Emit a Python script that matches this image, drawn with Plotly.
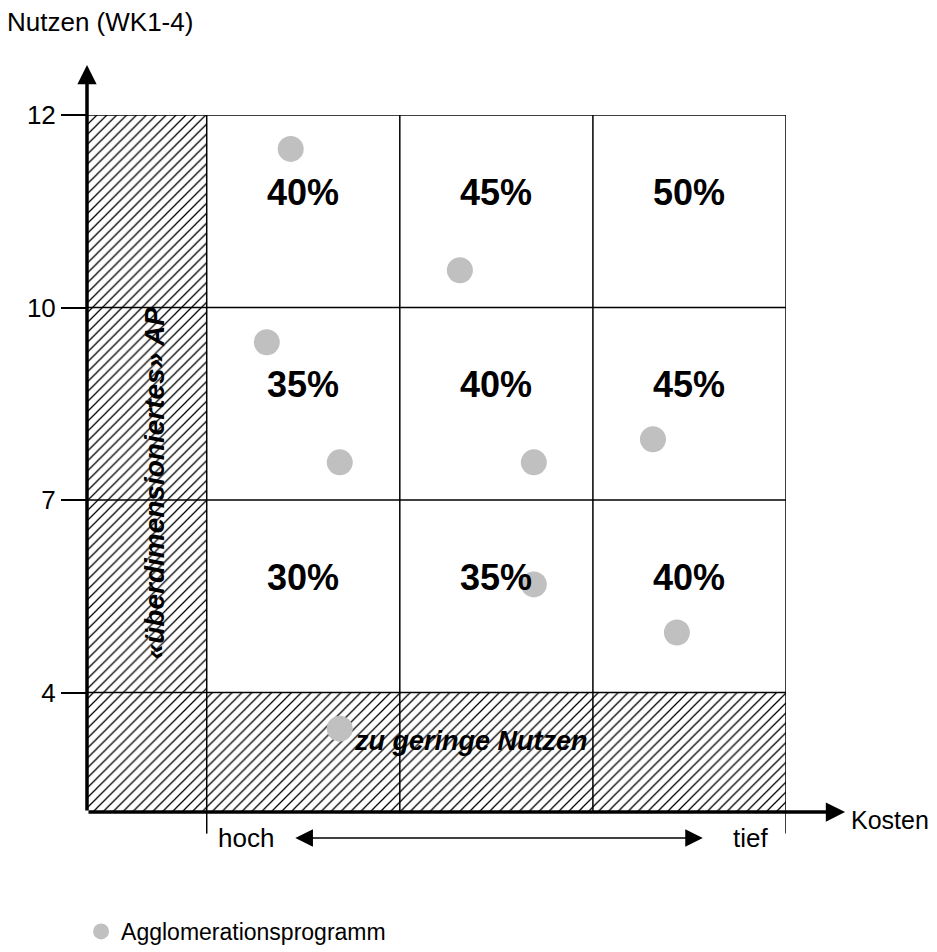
import plotly.graph_objects as go

FONT = "Arial, Liberation Sans, sans-serif"

# Axis layout (positional units: one matrix cell = 1 unit)
nutzen_tick_pos = [0, 1, 2, 3]
nutzen_tick_labels = ["4", "7", "10", "12"]
kosten_cols = [0, 1, 2, 3]          # column boundaries (hoch ... tief)
axis_min = -0.62                    # axis origin below/left of matrix

# Funding rates per cell (rows bottom->top, columns left->right)
cell_rows = [0, 0, 0, 1, 1, 1, 2, 2, 2]
cell_cols = [0, 1, 2, 0, 1, 2, 0, 1, 2]
cell_labels = ["30%", "35%", "40%", "35%", "40%", "45%", "40%", "45%", "50%"]

# Agglomerationsprogramme (cost position, benefit position)
programm_kosten = [0.435, 1.311, 0.311, 0.689, 1.694, 2.311, 1.694, 2.435, 0.689]
programm_nutzen = [2.824, 2.194, 1.820, 1.196, 1.196, 1.316, 0.562, 0.312, -0.187]

fig = go.Figure()

hatch = dict(shape="/", fgcolor="#000000", bgcolor="rgba(255,255,255,0)", size=7, solidity=0.18, fillmode="replace")
# left strip: überdimensioniert
fig.add_trace(go.Scatter(
    x=[axis_min, 0, 0, axis_min, axis_min], y=[axis_min, axis_min, 3, 3, axis_min],
    mode="lines", line=dict(width=0), fill="toself", fillcolor="rgba(255,255,255,0)",
    fillpattern=hatch, showlegend=False, hoverinfo="skip"))
# bottom strip: zu geringe Nutzen
fig.add_trace(go.Scatter(
    x=[0, 3, 3, 0, 0], y=[axis_min, axis_min, 0, 0, axis_min],
    mode="lines", line=dict(width=0), fill="toself", fillcolor="rgba(255,255,255,0)",
    fillpattern=hatch, showlegend=False, hoverinfo="skip"))

fig.add_trace(go.Scatter(
    x=programm_kosten, y=programm_nutzen, mode="markers",
    marker=dict(size=26, color="#c0c0c0", line=dict(width=0)),
    name="Agglomerationsprogramm", cliponaxis=False))

shapes = []
for c in kosten_cols:
    shapes.append(dict(type="line", xref="x", yref="y", x0=c, x1=c, y0=axis_min, y1=3,
                       line=dict(color="black", width=1.5), layer="below"))
for c in (kosten_cols[0], kosten_cols[-1]):
    shapes.append(dict(type="line", xref="x", yref="paper", x0=c, x1=c, y0=-0.031, y1=0,
                       line=dict(color="black", width=1.5), layer="below"))
for r in nutzen_tick_pos:
    shapes.append(dict(type="line", xref="x", yref="y", x0=axis_min, x1=3, y0=r, y1=r,
                       line=dict(color="black", width=1.5), layer="below"))

ann = []
for r, c, t in zip(cell_rows, cell_cols, cell_labels):
    ann.append(dict(x=c + 0.5, y=r + 0.6, text="<b>%s</b>" % t, showarrow=False,
                    font=dict(size=36, color="black", family=FONT)))

# axes arrows
ann.append(dict(x=axis_min, y=3.26, ax=axis_min, ay=axis_min, xref="x", yref="y",
                axref="x", ayref="y", text="", showarrow=True, arrowhead=2,
                arrowsize=1.1, arrowwidth=3.5, arrowcolor="black"))
ann.append(dict(x=3.306, y=axis_min, ax=axis_min, ay=axis_min, xref="x", yref="y",
                axref="x", ayref="y", text="", showarrow=True, arrowhead=2,
                arrowsize=1.1, arrowwidth=3.5, arrowcolor="black"))
# hoch <-> tief (paper coordinates, below the plot area)
ann.append(dict(x=0.881, y=-0.0373, ax=-409, ay=0, xref="paper", yref="paper",
                axref="pixel", ayref="pixel", text="", showarrow=True, arrowhead=2,
                arrowside="end+start", arrowsize=2.2, arrowwidth=1.6, arrowcolor="black"))
ann.append(dict(x=0.1845, y=-0.0373, xref="paper", yref="paper", text="hoch", showarrow=False,
                xanchor="left", yanchor="middle", font=dict(size=26, color="black", family=FONT)))
ann.append(dict(x=0.9485, y=-0.0373, xref="paper", yref="paper", text="tief", showarrow=False,
                xanchor="center", yanchor="middle", font=dict(size=26, color="black", family=FONT)))
ann.append(dict(x=1.0903, y=-0.0115, xref="paper", yref="paper", text="Kosten", showarrow=False,
                xanchor="left", yanchor="middle", font=dict(size=25, color="black", family=FONT)))
ann.append(dict(x=-0.118, y=1.133, xref="paper", yref="paper", text="Nutzen (WK1-4)", showarrow=False,
                xanchor="left", yanchor="middle", font=dict(size=26, color="black", family=FONT)))
ann.append(dict(x=-0.27, y=1.09, text="<b><i>«überdimensioniertes» AP</i></b>", showarrow=False,
                textangle=-90, font=dict(size=28, color="black", family=FONT)))
ann.append(dict(x=1.37, y=-0.25, text="<b><i>zu geringe Nutzen</i></b>", showarrow=False,
                font=dict(size=27, color="black", family=FONT)))

fig.update_layout(
    width=929, height=944,
    margin=dict(l=79, r=151, t=107, b=140),
    plot_bgcolor="white", paper_bgcolor="white",
    font=dict(family=FONT, size=20, color="black"),
    shapes=shapes, annotations=ann,
    showlegend=True,
    legend=dict(xref="paper", yref="container", x=-0.0085, y=0.0445,
                xanchor="left", yanchor="top",
                font=dict(size=23, color="black", family=FONT),
                bgcolor="rgba(0,0,0,0)", itemwidth=30),
    xaxis=dict(range=[axis_min, 3.0], showgrid=False, zeroline=False, showline=False,
               showticklabels=False, ticks=""),
    yaxis=dict(range=[axis_min, 3.0], showgrid=False, zeroline=False, showline=False,
               tickmode="array", tickvals=nutzen_tick_pos, ticktext=nutzen_tick_labels,
               ticks="outside", ticklen=25, tickwidth=1.5, tickcolor="black",
               tickfont=dict(size=26, color="black", family=FONT)),
)

fig.write_html("out.html")
